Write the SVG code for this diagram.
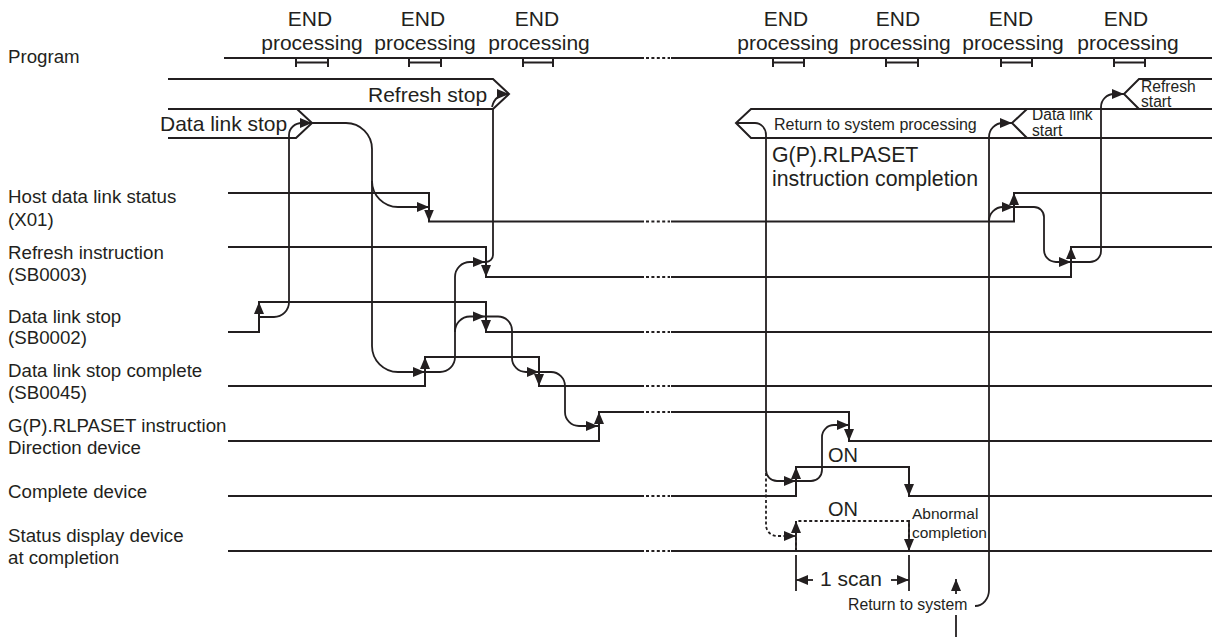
<svg xmlns="http://www.w3.org/2000/svg" width="1214" height="637" viewBox="0 0 1214 637">
<style>
text{font-family:"Liberation Sans",Arial,sans-serif;fill:#231f20}
.l{font-size:18.7px}.b{font-size:21px}.s{font-size:15.5px}.t{font-size:15.6px}
.m{text-anchor:middle}
.w{fill:none;stroke:#231f20;stroke-width:2}
.a{fill:none;stroke:#231f20;stroke-width:1.8}
.d{stroke-dasharray:3 2.4}
.e{marker-end:url(#ah)}
</style>
<defs>
<marker id="ah" markerUnits="userSpaceOnUse" markerWidth="13" markerHeight="12" refX="12" refY="6" orient="auto"><path d="M0 1L12 6L0 11z" fill="#231f20"/></marker>
</defs>
<rect width="1214" height="637" fill="#fff"/>
<g id="program">
<text class="l" x="8" y="63">Program</text>
<path class="w" d="M224 58H644M671 58H1212"/><path class="w d" d="M646 58H670"/>
<path class="w" d="M296 59V67M296 62.500H328M328 59V67M409 59V67M409 62.500H441M441 59V67M523 59V67M523 62.500H553M553 59V67M773 59V67M773 62.500H804M804 59V67M886 59V67M886 62.500H918M918 59V67M1001 59V67M1001 62.500H1032M1032 59V67M1114 59V67M1114 62.500H1145M1145 59V67"/>
<g class="b">
<text class="m" x="310" y="26">END</text><text class="m" x="312" y="50">processing</text>
<text class="m" x="423" y="26">END</text><text class="m" x="425" y="50">processing</text>
<text class="m" x="537" y="26">END</text><text class="m" x="539" y="50">processing</text>
<text class="m" x="786" y="26">END</text><text class="m" x="788" y="50">processing</text>
<text class="m" x="898" y="26">END</text><text class="m" x="900" y="50">processing</text>
<text class="m" x="1011" y="26">END</text><text class="m" x="1013" y="50">processing</text>
<text class="m" x="1126" y="26">END</text><text class="m" x="1128" y="50">processing</text>
</g>
</g>
<g id="band-refresh-stop">
<path class="w" d="M168 79H493L509 94L493 109H168"/>
<text class="b" x="368" y="102">Refresh stop</text>
</g>
<g id="band-data-link-stop">
<path class="w" d="M168 138H296L312 123L297 109"/>
<text class="b" x="160" y="131">Data link stop</text>
</g>
<g id="band-return">
<path class="w" d="M1212 109H751L736 123L751 138H1212"/>
<text class="s" x="774" y="130" style="font-size:16px">Return to system processing</text>
<text class="b" x="772" y="162" style="font-size:21.300px">G(P).RLPASET</text>
<text class="b" x="772" y="186" style="font-size:21.300px">instruction completion</text>
</g>
<g id="band-data-link-start">
<path class="w" d="M1027 109L1012 123L1027 138"/>
<text class="t" x="1032" y="120">Data link</text>
<text class="t" x="1032" y="136">start</text>
</g>
<g id="band-refresh-start">
<path class="w" d="M1212 79H1139L1124 94L1139 109"/>
<text class="t" x="1141" y="92">Refresh</text>
<text class="t" x="1141" y="107">start</text>
</g>
<g id="host-status">
<text class="l" x="8" y="203">Host data link status</text><text class="l" x="8" y="226">(X01)</text>
<path class="w" d="M228 193H429V221.500H644M671 221.500H1014V193H1212"/><path class="w d" d="M646 221.500H670"/>
</g>
<g id="refresh-instruction">
<text class="l" x="8" y="259">Refresh instruction</text><text class="l" x="8" y="281">(SB0003)</text>
<path class="w" d="M228 247H486V277H644M671 277H1071V247H1212"/><path class="w d" d="M646 277H670"/>
</g>
<g id="data-link-stop">
<text class="l" x="8" y="323">Data link stop</text><text class="l" x="8" y="344">(SB0002)</text>
<path class="w" d="M228 332H259V302H486V332H644M671 332H1212"/><path class="w d" d="M646 332H670"/>
</g>
<g id="data-link-stop-complete">
<text class="l" x="8" y="377">Data link stop complete</text><text class="l" x="8" y="399">(SB0045)</text>
<path class="w" d="M228 386H425V357H539V386H644M671 386H1212"/><path class="w d" d="M646 386H670"/>
</g>
<g id="direction-device">
<text class="l" x="8" y="432">G(P).RLPASET instruction</text><text class="l" x="8" y="454">Direction device</text>
<path class="w" d="M228 441H599V412H644M671 412H849V441H1212"/><path class="w d" d="M646 412H670"/>
</g>
<g id="complete-device">
<text class="l" x="8" y="498">Complete device</text>
<path class="w" d="M228 496H644M671 496H796V467H909V496H1212"/><path class="w d" d="M646 496H670"/>
<text class="b" x="828" y="462" style="font-size:20px">ON</text>
</g>
<g id="status-device">
<text class="l" x="8" y="542">Status display device</text><text class="l" x="8" y="564">at completion</text>
<path class="w" d="M228 551H644M671 551H1212"/><path class="w d" d="M646 551H670M796 551V521H909V551"/>
<text class="b" x="828" y="516" style="font-size:20px">ON</text>
<text class="s" x="912" y="519">Abnormal</text><text class="s" x="912" y="538">completion</text>
</g>
<g id="scan">
<path class="a" d="M796 555V591M909 555V591"/>
<path class="a e" d="M813 580H796"/><path class="a e" d="M891 580H909"/>
<text class="b" x="820" y="586">1 scan</text>
</g>
<g id="return-to-system">
<text class="s" x="848" y="610" style="font-size:15.800px">Return to system</text>
<path class="a e" d="M956 594V579"/><path class="a" d="M956 615V637"/>
</g>
<g id="connectors">
<path class="a e" d="M259 332V302"/>
<path class="a e" d="M259 317H274A15 15 0 0 0 289 302V135A13 12 0 0 1 302 123H312"/>
<path class="a e" d="M312 123H346A26 26 0 0 1 372 149V346A26 26 0 0 0 398 372H425"/>
<path class="a e" d="M372 181A26 26 0 0 0 398 207H429"/>
<path class="a e" d="M429 193V221.500"/>
<path class="a e" d="M425 386V357"/>
<path class="a e" d="M425 372H440A15 15 0 0 0 455 357V277A15 15 0 0 1 470 262H485"/>
<path class="a e" d="M455 332A15 15 0 0 1 470 316.500H485"/>
<path class="a e" d="M486 247V277"/>
<path class="a e" d="M486 302V332"/>
<path class="a" d="M493 109V255A7 7 0 0 1 486 262"/>
<path class="a e" d="M492 107Q495 94 509 94"/>
<path class="a e" d="M485 316.500H498A14 14 0 0 1 512 330V358A14 14 0 0 0 526 372H539"/>
<path class="a e" d="M539 357V386"/>
<path class="a e" d="M539 372H551A14 14 0 0 1 565 386V412A14 14 0 0 0 579 426H598"/>
<path class="a e" d="M599 441V412"/>
<path class="a e" d="M736 123H755A11 12 0 0 1 766 135V470A11 11 0 0 0 777 481H796"/>
<path class="a d e" d="M766 473V525A11 11 0 0 0 777 536H796"/>
<path class="a e" d="M796 496V467"/>
<path class="a e" d="M796 551V521"/>
<path class="a e" d="M796 481H811A11 11 0 0 0 822 470V437A12 12 0 0 1 834 425H849"/>
<path class="a e" d="M849 412V441"/>
<path class="a e" d="M909 467V496"/>
<path class="a e" d="M909 521V551"/>
<path class="a e" d="M975 606A14 16 0 0 0 989 590V137A14 14 0 0 1 1003 123H1012"/>
<path class="a e" d="M989 221A14 14 0 0 1 1003 207H1014"/>
<path class="a e" d="M1014 221.500V193"/>
<path class="a e" d="M1014 207H1034A10 10 0 0 1 1044 217V250A12 12 0 0 0 1056 262H1071"/>
<path class="a e" d="M1071 277V247"/>
<path class="a e" d="M1071 262H1090A11 11 0 0 0 1101 251V107A13 13 0 0 1 1114 94H1124"/>
</g>
</svg>
